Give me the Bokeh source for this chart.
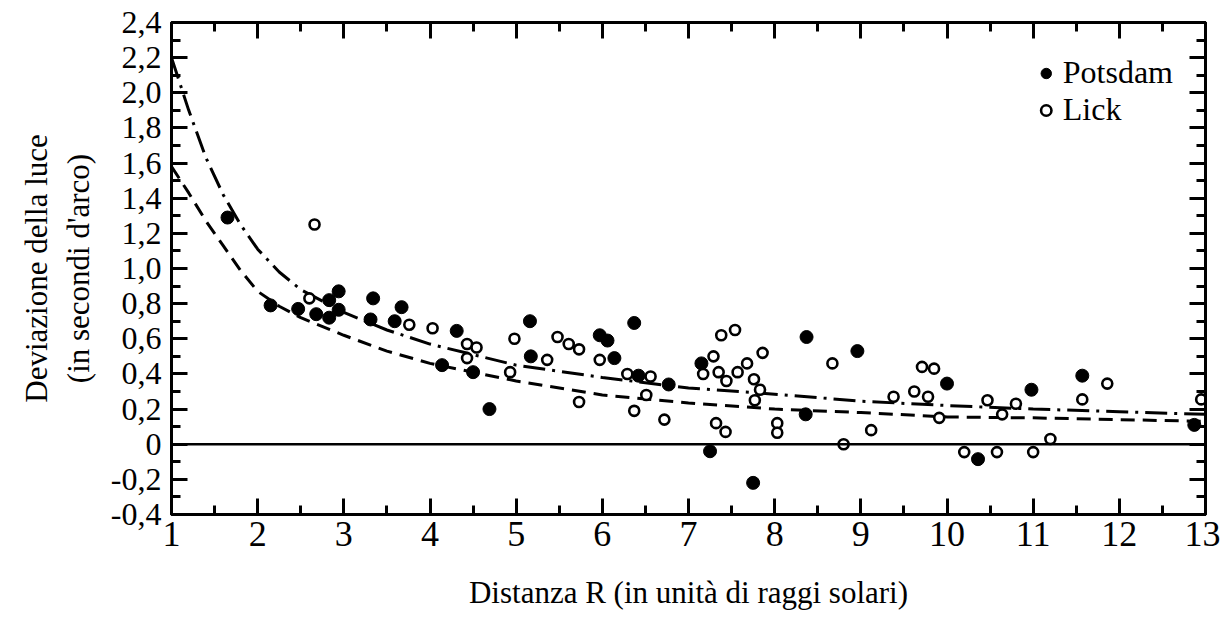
from bokeh.plotting import figure
from bokeh.models import (FixedTicker, LinearAxis, Span, Legend, LegendItem,
                          CustomJSTickFormatter, Range1d)
from bokeh.embed import file_html
from bokeh.resources import INLINE

# ---------------- data ----------------
potsdam_r = [1.65, 2.15, 2.47, 2.68, 2.83, 2.94, 2.83, 2.94, 3.31, 3.34, 3.59, 3.67,
             4.14, 4.31, 4.50, 4.69, 5.16, 5.17, 5.97, 6.06, 6.14, 6.37, 6.42, 6.77,
             7.15, 7.25, 7.75, 8.37, 8.36, 8.96, 10.0, 10.36, 10.98, 11.57, 12.87]
potsdam_d = [1.29, 0.79, 0.77, 0.74, 0.82, 0.87, 0.72, 0.765, 0.71, 0.83, 0.70, 0.78,
             0.45, 0.645, 0.41, 0.20, 0.70, 0.50, 0.62, 0.59, 0.49, 0.69, 0.39, 0.34,
             0.46, -0.04, -0.22, 0.61, 0.17, 0.53, 0.345, -0.085, 0.31, 0.39, 0.11]

lick_r = [2.66, 2.60, 3.76, 4.03, 4.43, 4.54, 4.43, 4.93, 4.98, 5.36, 5.48, 5.61,
          5.73, 5.73, 5.97, 6.29, 6.56, 6.51, 6.37, 6.72, 7.17, 7.29, 7.38, 7.54,
          7.35, 7.44, 7.57, 7.68, 7.76, 7.86, 7.83, 7.77, 7.32, 7.43, 8.03, 8.03,
          8.67, 8.80, 9.12, 9.38, 9.62, 9.71, 9.85, 9.78, 9.91, 10.2, 10.58, 10.47,
          10.64, 10.80, 11.0, 11.2, 11.57, 11.86, 12.95]
lick_d = [1.25, 0.83, 0.68, 0.66, 0.57, 0.55, 0.49, 0.41, 0.60, 0.48, 0.61, 0.57,
          0.54, 0.24, 0.48, 0.40, 0.385, 0.28, 0.19, 0.14, 0.40, 0.50, 0.62, 0.65,
          0.41, 0.36, 0.41, 0.46, 0.37, 0.52, 0.31, 0.25, 0.12, 0.07, 0.12, 0.065,
          0.46, 0.0, 0.08, 0.27, 0.30, 0.44, 0.43, 0.27, 0.15, -0.045, -0.045, 0.25,
          0.17, 0.23, -0.045, 0.03, 0.255, 0.345, 0.255]

curve_r = [1.0, 1.2, 1.4, 1.6, 1.8, 2.0, 2.25, 2.5, 3.0, 3.5, 4.0, 5.0, 6.0, 7.0,
           8.0, 9.0, 10.0, 11.0, 12.0, 13.0]
dashdot_d = [2.20, 1.90, 1.63, 1.42, 1.25, 1.11, 0.98, 0.88, 0.75, 0.65, 0.57, 0.45,
             0.38, 0.32, 0.285, 0.245, 0.22, 0.20, 0.185, 0.17]
dashed_d = [1.58, 1.43, 1.27, 1.13, 0.99, 0.87, 0.785, 0.72, 0.62, 0.53, 0.46, 0.36,
            0.28, 0.235, 0.20, 0.18, 0.155, 0.15, 0.14, 0.13]

x_ticks = [1, 2, 3, 4, 5, 6, 7, 8, 9, 10, 11, 12, 13]
x_minor = [1.5, 2.5, 3.5, 4.5, 5.5, 6.5, 7.5, 8.5, 9.5, 10.5, 11.5, 12.5]
y_ticks = [-0.4, -0.2, 0.0, 0.2, 0.4, 0.6, 0.8, 1.0, 1.2, 1.4, 1.6, 1.8, 2.0, 2.2, 2.4]
y_minor = [-0.3, -0.1, 0.1, 0.3, 0.5, 0.7, 0.9, 1.1, 1.3, 1.5, 1.7, 1.9, 2.1, 2.3]

x_title = "Distanza R (in unità di raggi solari)"
y_title = "Deviazione della luce\n(in secondi d'arco)"
series_names = ["Potsdam", "Lick"]

FONT = "Liberation Serif"

p = figure(width=1220, height=635, output_backend="svg", toolbar_location=None,
           x_range=Range1d(1, 13), y_range=Range1d(-0.4, 2.4),
           min_border_left=171, min_border_right=15, min_border_top=22,
           min_border_bottom=121, x_axis_label=x_title, y_axis_label=y_title)
p.background_fill_color = "white"
p.border_fill_color = "white"
p.xgrid.visible = False
p.ygrid.visible = False
p.outline_line_color = "black"
p.outline_line_width = 3
p.outline_line_alpha = 1

fmt_y = CustomJSTickFormatter(code="return tick == 0 ? '0' : tick.toFixed(1).replace('.', ',');")
fmt_none = CustomJSTickFormatter(code="return '';")


def style_axis(ax, ticks, minor, show_labels):
    ax.ticker = FixedTicker(ticks=ticks, minor_ticks=minor)
    ax.major_tick_in = 16
    ax.major_tick_out = 0
    ax.minor_tick_in = 9
    ax.minor_tick_out = 0
    ax.major_tick_line_width = 3
    ax.minor_tick_line_width = 3
    ax.major_tick_line_color = "black"
    ax.minor_tick_line_color = "black"
    ax.axis_line_width = 3
    ax.axis_line_color = "black"
    ax.major_label_text_font = FONT
    ax.major_label_text_color = "black"
    ax.axis_label_text_font = FONT
    ax.axis_label_text_font_style = "normal"
    ax.axis_label_text_color = "black"
    if not show_labels:
        ax.formatter = fmt_none
        ax.major_label_standoff = 0


xa = p.xaxis[0]
style_axis(xa, x_ticks, x_minor, True)
xa.major_label_text_font_size = "36px"
xa.major_label_standoff = 7
xa.axis_label_text_font_size = "31px"
xa.axis_label_standoff = 26

ya = p.yaxis[0]
style_axis(ya, y_ticks, y_minor, True)
ya.formatter = fmt_y
ya.major_label_text_font_size = "32px"
ya.major_label_standoff = 10
ya.axis_label_text_font_size = "31px"
ya.axis_label_standoff = 12

top = LinearAxis()
style_axis(top, x_ticks, x_minor, False)
p.add_layout(top, "above")
right = LinearAxis()
style_axis(right, y_ticks, y_minor, False)
p.add_layout(right, "right")

p.add_layout(Span(location=0, dimension="width", line_color="black", line_width=2.5))

p.line(curve_r, dashdot_d, line_color="black", line_width=3, line_dash="22 7 3 7")
p.line(curve_r, dashed_d, line_color="black", line_width=3, line_dash="14 8")

r_pot = p.scatter(potsdam_r, potsdam_d, size=13, fill_color="black", line_color="black")
r_lick = p.scatter(lick_r, lick_d, size=10, fill_color="white", line_color="black",
                   line_width=2.6)

legend = Legend(items=[LegendItem(label=series_names[0], renderers=[r_pot]),
                       LegendItem(label=series_names[1], renderers=[r_lick])],
                location="top_right")
legend.label_text_font = FONT
legend.label_text_font_size = "32px"
legend.label_text_color = "black"
legend.border_line_alpha = 0
legend.background_fill_alpha = 0
legend.spacing = 0
legend.padding = 2
legend.margin = 30
legend.glyph_width = 26
legend.glyph_height = 26
legend.label_standoff = 4
legend.label_height = 30
p.add_layout(legend)

open("out.html", "w").write(file_html(p, INLINE))
